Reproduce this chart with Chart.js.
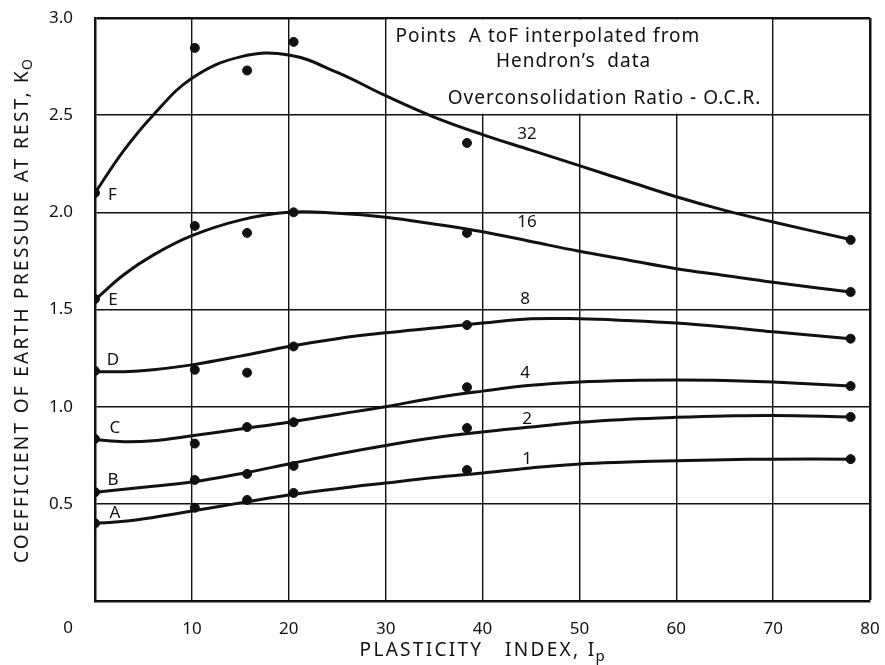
<!DOCTYPE html>
<html>
<head>
<meta charset="utf-8">
<script src="https://cdn.jsdelivr.net/npm/chart.js@4/dist/chart.umd.min.js"></script>
<style>
  html, body { margin: 0; padding: 0; background: #fff; }
  #wrap { width: 885px; height: 665px; }
</style>
</head>
<body>
<div id="wrap"><canvas id="koChart" width="885" height="665"></canvas></div>
<script>
// Ko vs plasticity index, one curve per over-consolidation ratio

const curveX = [0, 3, 6, 10, 15, 20, 25, 30, 35, 40, 45, 50, 55, 60, 65, 70, 78];
const curveA = [0.40, 0.41, 0.43, 0.463, 0.505, 0.545, 0.578, 0.607, 0.635, 0.659, 0.685, 0.705, 0.715, 0.722, 0.727, 0.73, 0.73];
const curveB = [0.56, 0.575, 0.59, 0.612, 0.655, 0.705, 0.755, 0.80, 0.84, 0.87, 0.895, 0.92, 0.935, 0.945, 0.952, 0.955, 0.947];
const curveC = [0.83, 0.82, 0.825, 0.85, 0.885, 0.92, 0.96, 1.00, 1.045, 1.08, 1.11, 1.127, 1.135, 1.137, 1.135, 1.127, 1.106];
const curveD = [1.18, 1.18, 1.19, 1.215, 1.26, 1.31, 1.35, 1.38, 1.405, 1.43, 1.452, 1.452, 1.443, 1.43, 1.41, 1.385, 1.35];
const curveE = [1.55, 1.68, 1.78, 1.88, 1.96, 2.0, 1.995, 1.975, 1.94, 1.90, 1.85, 1.80, 1.755, 1.71, 1.675, 1.64, 1.59];
const curveF = [2.10, 2.32, 2.50, 2.69, 2.80, 2.81, 2.72, 2.60, 2.49, 2.40, 2.32, 2.24, 2.16, 2.08, 2.01, 1.95, 1.86];

// Hendron's data points
const dotX = [0, 10.3, 15.7, 20.5, 38.4, 78];
const dotA = [0.40, 0.48, 0.52, 0.556, 0.674, 0.73];
const dotB = [0.56, 0.623, 0.654, 0.695, 0.89, 0.947];
const dotC = [0.834, 0.81, 0.895, 0.92, 1.10, 1.106];
const dotD = [1.184, 1.19, 1.175, 1.31, 1.42, 1.35];
const dotE = [1.554, 1.93, 1.894, 2.0, 1.894, 1.59];
const dotF = [2.10, 2.846, 2.73, 2.877, 2.357, 1.858];

const pointLetters = ['A', 'B', 'C', 'D', 'E', 'F'];
const ocrValues = ['1', '2', '4', '8', '16', '32'];
const noteLines = ['Points  A toF interpolated from', 'Hendron\u2019s  data', 'Overconsolidation Ratio - O.C.R.'];

// label placement (data coordinates)
const letterPos = [[2.05, 0.45], [1.85, 0.62], [2.05, 0.89], [1.85, 1.24], [1.85, 1.55], [1.8, 2.09]];
const ocrPos = [[44.6, 0.73], [44.6, 0.937], [44.4, 1.173], [44.4, 1.555], [44.6, 1.95], [44.6, 2.40]];
const notePos = [[46.75, 2.903], [49.4, 2.774], [52.6, 2.584]];

const FONT = '"Noto Sans", "DejaVu Sans", sans-serif';
const INK = '#111';

const curves = [curveA, curveB, curveC, curveD, curveE, curveF];
const dots = [dotA, dotB, dotC, dotD, dotE, dotF];

const datasets = [];
curves.forEach((ys, i) => {
  datasets.push({
    type: 'line',
    label: 'OCR ' + ocrValues[i],
    data: curveX.map((x, j) => ({ x: x, y: ys[j] })),
    borderColor: INK,
    borderWidth: 3,
    pointRadius: 0,
    fill: false,
    tension: 0.4
  });
});
dots.forEach((ys, i) => {
  datasets.push({
    type: 'scatter',
    label: 'Point ' + pointLetters[i],
    data: dotX.map((x, j) => ({ x: x, y: ys[j] })),
    backgroundColor: INK,
    borderColor: INK,
    pointRadius: 4.5,
    showLine: false
  });
});

function spaced(ctx, px) {
  if ('letterSpacing' in ctx) ctx.letterSpacing = px + 'px';
}

const annotations = {
  id: 'annotations',
  beforeDatasetsDraw(chart) {
    // blank box behind the note, keeps the grid lines that frame it
    const { ctx, scales: { x, y } } = chart;
    ctx.save();
    ctx.fillStyle = '#fff';
    const l = x.getPixelForValue(30) + 1.5, r = x.getPixelForValue(70) - 1.5;
    const t = y.getPixelForValue(3) + 1.5, b = y.getPixelForValue(2.5) - 1.5;
    ctx.fillRect(l, t, r - l, b - t);
    ctx.restore();
  },
  afterDatasetsDraw(chart) {
    const { ctx, scales: { x, y } } = chart;
    ctx.save();
    ctx.fillStyle = INK;
    ctx.textAlign = 'center';
    ctx.textBaseline = 'middle';

    ctx.font = '17px ' + FONT;
    letterPos.forEach((p, i) => {
      ctx.fillText(pointLetters[i], x.getPixelForValue(p[0]), y.getPixelForValue(p[1]));
    });
    ocrPos.forEach((p, i) => {
      ctx.fillText(ocrValues[i], x.getPixelForValue(p[0]), y.getPixelForValue(p[1]));
    });

    ctx.font = '19px ' + FONT;
    spaced(ctx, 1);
    notePos.forEach((p, i) => {
      ctx.fillText(noteLines[i], x.getPixelForValue(p[0]), y.getPixelForValue(p[1]));
    });
    ctx.restore();
  },
  afterDraw(chart) {
    const { ctx, scales: { x } } = chart;
    ctx.save();
    ctx.fillStyle = INK;
    ctx.textBaseline = 'middle';

    // origin label sits left of the corner
    ctx.font = '17px ' + FONT;
    ctx.textAlign = 'center';
    ctx.fillText('0', x.getPixelForValue(0) - 27, 628);

    // x title with subscript p
    ctx.font = '19px ' + FONT;
    spaced(ctx, 2.3);
    ctx.textAlign = 'left';
    const xMain = 'PLASTICITY   INDEX, I';
    const xw = ctx.measureText(xMain).width;
    const xs = 483 - (xw + 10) / 2;
    ctx.fillText(xMain, xs, 651);
    ctx.font = '15px ' + FONT;
    ctx.fillText('p', xs + xw - 1, 657);

    // y title with subscript O
    ctx.translate(23, 311);
    ctx.rotate(-Math.PI / 2);
    ctx.font = '19px ' + FONT;
    const yMain = 'COEFFICIENT OF EARTH PRESSURE AT REST, K';
    const yw = ctx.measureText(yMain).width;
    const ys0 = -(yw + 10) / 2;
    ctx.fillText(yMain, ys0, 0);
    ctx.font = '14px ' + FONT;
    ctx.fillText('O', ys0 + yw - 1, 5);
    ctx.restore();
  }
};

const gridWidth = (max) => (c) => (c.tick && c.tick.value === max ? 2.5 : 1.4);

new Chart(document.getElementById('koChart'), {
  data: { datasets: datasets },
  options: {
    responsive: false,
    animation: false,
    layout: { padding: { left: 0, top: 18, right: 15, bottom: 0 } },
    plugins: {
      legend: { display: false },
      tooltip: { enabled: false }
    },
    scales: {
      x: {
        type: 'linear',
        min: 0,
        max: 80,
        afterFit: (s) => { s.height = 64; s.paddingLeft = 0; s.paddingRight = 0; },
        ticks: {
          stepSize: 10,
          padding: 18,
          color: INK,
          font: { family: FONT, size: 17 },
          callback: (v) => (v === 0 ? '' : v)
        },
        grid: { color: INK, lineWidth: gridWidth(80), drawTicks: false },
        border: { display: true, color: INK, width: 2.5 }
      },
      y: {
        type: 'linear',
        min: 0,
        max: 3,
        afterFit: (s) => { s.width = 95; s.paddingTop = 0; s.paddingBottom = 0; },
        ticks: {
          stepSize: 0.5,
          padding: 22,
          color: INK,
          font: { family: FONT, size: 17 },
          callback: (v) => (v === 0 ? '' : v.toFixed(1))
        },
        grid: { color: INK, lineWidth: gridWidth(3), drawTicks: false },
        border: { display: true, color: INK, width: 2.5 }
      }
    }
  },
  plugins: [annotations]
});
</script>
</body>
</html>
